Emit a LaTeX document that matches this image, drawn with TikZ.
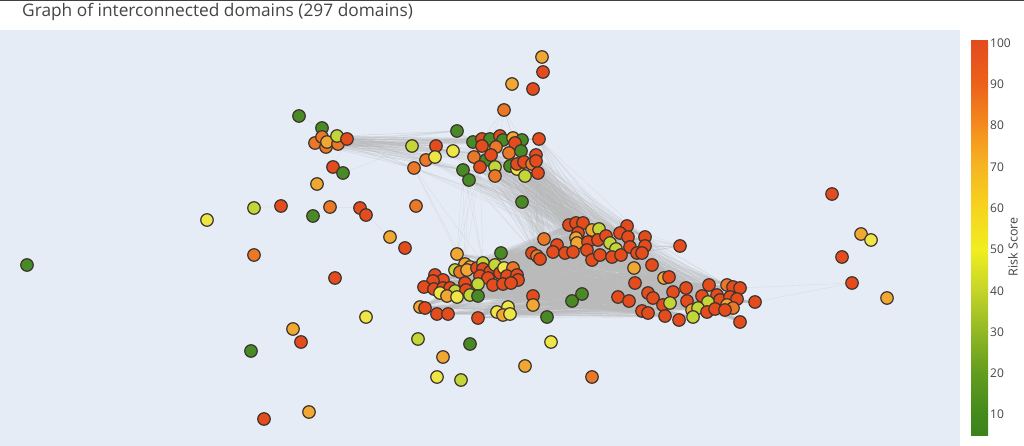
\documentclass[tikz,border=0pt]{standalone}
\usepackage{fontspec}
\setmainfont{Open Sans}
\usetikzlibrary{positioning}

\pgfdeclarelayer{back}
\pgfdeclarelayer{edges}
\pgfsetlayers{back,edges,main}

\definecolor{plotbg}{RGB}{229,236,246}
\definecolor{linkc}{RGB}{186,186,186}
\definecolor{rimc}{RGB}{62,52,46}
\definecolor{txtc}{RGB}{68,68,68}
\definecolor{rk}{RGB}{228,76,30}
\definecolor{or}{RGB}{235,120,38}
\definecolor{am}{RGB}{241,168,50}
\definecolor{ye}{RGB}{238,230,70}
\definecolor{li}{RGB}{194,214,56}
\definecolor{gr}{RGB}{72,138,38}
% colour bar stops
\definecolor{cb5}{RGB}{60,130,28}
\definecolor{cb10}{RGB}{66,138,28}
\definecolor{cb20}{RGB}{98,156,30}
\definecolor{cb30}{RGB}{145,184,36}
\definecolor{cb40}{RGB}{196,212,40}
\definecolor{cb50}{RGB}{240,238,32}
\definecolor{cb60}{RGB}{246,212,30}
\definecolor{cb70}{RGB}{246,182,34}
\definecolor{cb80}{RGB}{244,140,30}
\definecolor{cb90}{RGB}{236,98,26}
\definecolor{cb100}{RGB}{228,76,30}

\tikzset{
  dom/.style={circle, draw=rimc, line width=1.2pt, minimum size=12.5pt, inner sep=0pt},
  link/.style={draw=linkc, line width=0.35pt, opacity=0.32},
  ticklab/.style={anchor=west, inner sep=0pt, text=txtc, font=\fontsize{12}{14}\selectfont},
}

% domain positions x/y/colour
\def\tllist{299/116/gr, 322/128/gr, 315/143/or, 322/137/or, 326/147/or, 327/142/am,
  338/144/or, 337/136/li, 347/139/rk}
\def\uplist{457/131/gr, 412/146/li, 436/146/rk, 453/151/ye, 426/160/or, 435/157/ye,
  414/168/or, 473/142/gr, 482/139/rk, 490/139/gr, 500/136/rk, 503/140/gr, 513/138/am,
  522/140/gr, 539/139/rk, 482/146/rk, 496/147/or, 515/143/rk, 509/153/or, 521/151/gr,
  536/155/rk, 474/157/or, 486/160/gr, 491/155/rk, 480/167/rk, 495/167/li, 495/176/or,
  510/166/gr, 517/169/ye, 517/164/rk, 524/162/rk, 532/164/or, 536/161/rk, 525/176/li,
  538/173/rk, 463/170/gr, 469/180/gr}
\def\midlist{544/239/or, 569/225/rk, 576/223/rk, 583/223/rk, 592/230/am, 599/229/li,
  578/233/rk, 576/238/am, 577/243/am, 557/245/rk, 553/252/rk, 565/253/rk, 573/252/rk,
  588/242/rk, 598/240/rk, 606/236/rk, 587/250/rk, 592/260/rk, 600/255/rk, 610/243/li,
  616/249/li, 612/257/rk, 621/255/rk, 627/226/rk, 620/233/rk, 628/237/rk, 630/247/rk,
  637/253/rk, 645/237/rk, 645/246/rk, 642/253/rk, 532/253/rk, 537/256/or, 540/259/rk}
\def\lolist{457/254/am, 501/253/gr, 435/275/rk, 443/280/rk, 433/281/rk, 465/264/am,
  470/267/am, 455/270/li, 460/272/or, 467/270/am, 477/268/rk, 483/263/li, 483/269/rk,
  490/272/rk, 495/265/li, 500/273/rk, 504/268/ye, 513/268/or, 507/276/rk, 517/275/rk,
  518/280/rk, 480/276/rk, 488/278/rk, 465/283/rk, 478/284/li, 493/285/rk, 503/284/rk,
  511/283/rk, 424/287/rk, 434/289/rk, 443/288/rk, 450/288/rk, 440/293/ye, 455/291/li,
  466/290/rk, 447/296/am, 457/297/ye, 470/295/li, 478/296/gr, 420/307/am, 425/308/rk,
  437/314/rk, 448/314/rk, 478/318/rk, 497/312/ye, 508/307/ye, 503/315/am, 510/314/ye,
  533/296/rk, 533/305/am, 572/301/gr, 582/294/gr}
\def\rtlist{634/268/am, 652/265/rk, 664/278/am, 669/277/rk, 635/283/rk, 618/297/rk,
  629/301/rk, 648/293/rk, 653/298/rk, 673/292/rk, 686/288/rk, 709/285/rk, 727/285/or,
  733/287/rk, 740/288/rk, 702/296/rk, 717/295/rk, 720/300/rk, 730/297/rk, 737/299/rk,
  727/305/am, 733/308/or, 687/301/rk, 663/305/rk, 670/303/li, 708/302/li, 692/310/am,
  698/308/li, 707/312/rk, 715/309/rk, 725/310/rk, 665/316/rk, 642/311/rk, 648/313/rk,
  679/320/rk, 693/317/li, 740/322/rk, 755/302/rk}
\def\isolist{27/265/gr, 207/220/ye, 254/208/li, 281/206/rk, 313/216/gr, 330/207/or,
  360/208/rk, 366/215/rk, 390/237/am, 405/248/rk, 416/206/or, 254/255/or, 335/278/rk,
  366/317/ye, 293/329/am, 301/342/rk, 251/351/gr, 264/419/rk, 309/412/am, 418/339/li,
  443/357/am, 437/377/ye, 461/380/li, 470/344/gr, 525/366/am, 551/342/ye, 592/377/or,
  547/317/gr, 333/167/rk, 343/173/gr, 317/184/am, 504/110/or, 522/202/gr, 542/57/am,
  543/72/rk, 512/84/am, 533/89/rk, 680/246/rk, 832/194/rk, 861/234/am, 871/240/ye,
  842/257/rk, 852/283/rk, 887/298/am}

\begin{document}
\begin{tikzpicture}[x=1pt, y=-1pt]
\useasboundingbox (0,0) rectangle (1024,446);
\begin{pgfonlayer}{back}
  \fill[plotbg] (0,30) rectangle (960,446);
  \draw[black!75, line width=1pt] (0,0.5) -- (1024,0.5);
\end{pgfonlayer}

\node[anchor=base west, inner sep=0pt, text=txtc, font=\fontsize{17.3}{20}\selectfont]
  (title) at (22,17) {Graph of interconnected domains (297 domains)};

% domains
\foreach \x/\y/\col [count=\i] in \tllist {\node[dom, fill=\col] (tl\i) at (\x,\y) {}; \xdef\ntl{\i}}
\foreach \x/\y/\col [count=\i] in \uplist {\node[dom, fill=\col] (up\i) at (\x,\y) {}; \xdef\nup{\i}}
\foreach \x/\y/\col [count=\i] in \midlist {\node[dom, fill=\col] (mid\i) at (\x,\y) {}; \xdef\nmid{\i}}
\foreach \x/\y/\col [count=\i] in \lolist {\node[dom, fill=\col] (lo\i) at (\x,\y) {}; \xdef\nlo{\i}}
\foreach \x/\y/\col [count=\i] in \rtlist {\node[dom, fill=\col] (rt\i) at (\x,\y) {}; \xdef\nrt{\i}}
\foreach \x/\y/\col [count=\i] in \isolist {\node[dom, fill=\col] (iso\i) at (\x,\y) {};}

% links between the groups
\begin{pgfonlayer}{edges}
  \foreach \i in {3,...,\ntl} \foreach \j in {1,...,8} \draw[link] (tl\i) -- (up\j);
  \foreach \i in {3,...,\ntl} \foreach \j in {9,12,...,\nup} \draw[link] (tl\i) -- (up\j);
  \foreach \i in {15,...,\nup} \foreach \j in {1,3,...,\nmid} \draw[link] (up\i) -- (mid\j);
  \foreach \i in {1,3,...,14} \foreach \j in {2,9,...,\nmid} \draw[link] (up\i) -- (mid\j);
  \foreach \i in {7,25,36,37} \foreach \j in {1,6,12} \draw[link] (up\i) -- (lo\j);
  \foreach \i in {1,...,\nmid} \foreach \j in {2,4,...,\nlo} \draw[link] (mid\i) -- (lo\j);
  \foreach \i in {1,...,\nmid} \foreach \j in {1,4,...,\nrt} \draw[link] (mid\i) -- (rt\j);
  \foreach \i in {1,...,\nlo} \foreach \j in {2,4,...,\nrt} \draw[link] (lo\i) -- (rt\j);
  \draw[link] (tl1) -- (tl2);
  \foreach \j in {9,10,11,13,14,18} \draw[link] (iso32) -- (up\j);
  \foreach \j in {20,...,31} \draw[link] (iso38) -- (mid\j);
  \foreach \j in {29,35} \draw[link] (iso33) -- (up\j);
  \draw[link] (iso33) -- (mid2);
  \draw[link] (iso3) -- (iso4);
  \draw[link] (iso6) -- (iso7);
  \draw[link] (iso8) -- (iso9) -- (iso10);
  \draw[link] (iso29) -- (tl9);
  \draw[link] (iso30) -- (up2);
  \draw[link] (iso43) -- (rt38);
  \draw[link] (iso43) -- (rt15);
\end{pgfonlayer}

% colour bar
\fill[cb100] (971,40) rectangle (988,44);
\foreach \lo/\hi in {5/10,10/20,20/30,30/40,40/50,50/60,60/70,70/80,80/90,90/100}
  \shade[top color=cb\hi, bottom color=cb\lo] (971,{43+(100-\hi)*4.13}) rectangle (988,{43+(100-\lo)*4.13});
\foreach \v in {10,20,...,100}
  \node[ticklab] (tick\v) at (990,{43+(100-\v)*4.13}) {\v};
\node[rotate=90, text=txtc, font=\fontsize{12.5}{14}\selectfont] (cbtitle) at (1013,247) {Risk Score};
\end{tikzpicture}
\end{document}
